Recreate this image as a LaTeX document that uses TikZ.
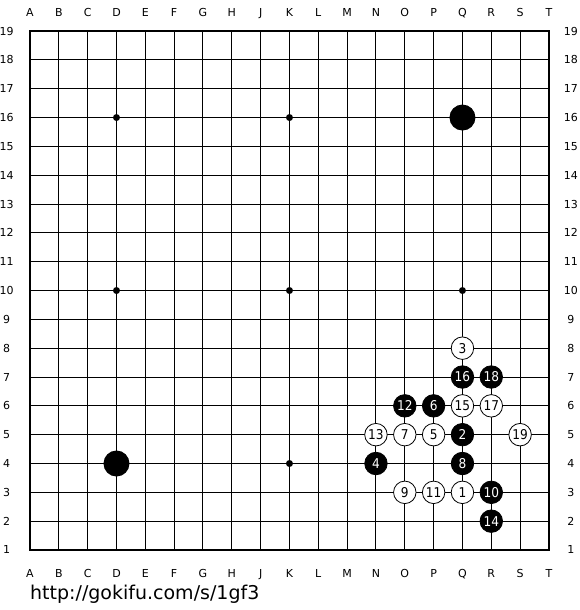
\documentclass[tikz,border=0pt]{standalone}
\usepackage{fontspec}
\setmainfont{DejaVu Sans}
\newfontfamily\numfont{DejaVu Sans Condensed}
\begin{document}
\begin{tikzpicture}[
  gridline/.style={line width=1pt,black},
  borderline/.style={line width=2pt,black},
  coordlabel/.style={font=\fontsize{11}{11}\selectfont,inner sep=0pt,text height=8pt,text depth=0pt},
  bstone/.style={circle,fill=black,draw=black,line width=0.8pt,minimum size=22.5pt,inner sep=0pt,text=white,font=\numfont\fontsize{13.5}{13.5}\selectfont},
  wstone/.style={circle,fill=white,draw=black,line width=0.8pt,minimum size=22.5pt,inner sep=0pt,text=black,font=\numfont\fontsize{13.5}{13.5}\selectfont},
  bigstone/.style={circle,fill=black,minimum size=26pt,inner sep=0pt},
  hoshi/.style={circle,fill=black,minimum size=7pt,inner sep=0pt}
]
\useasboundingbox[fill=white] (0pt,0pt) rectangle (580pt,610pt);
\begin{scope}[x=28.83pt,y=28.83pt,shift={(30pt,31.17pt)}]
  \foreach \i in {1,...,17} {
    \draw[gridline] (\i,1) -- (\i,19);
    \draw[gridline] (0,\i+1) -- (18,\i+1);
  }
  \draw[borderline] (0,1) rectangle (18,19);
  \foreach \l [count=\c from 0] in {A,B,C,D,E,F,G,H,J,K,L,M,N,O,P,Q,R,S,T} {
    \node[coordlabel] (top\l) at (\c,19.64) {\l};
    \node[coordlabel] (bot\l) at (\c,0.2) {\l};
  }
  \foreach \r in {1,...,19} {
    \node[coordlabel] (left\r) at (-0.81,\r) {\r};
    \node[coordlabel] (right\r) at (18.76,\r) {\r};
  }
  \foreach \c/\r [count=\k] in {3/16,9/16,3/10,9/10,15/10,9/4} {
    \node[hoshi] (hoshi\k) at (\c,\r) {};
  }
  \node[bigstone] (bigD4) at (3,4) {};
  \node[bigstone] (bigQ16) at (15,16) {};
  \node[wstone] (m1) at (15,3) {1};
  \node[bstone] (m2) at (15,5) {2};
  \node[wstone] (m3) at (15,8) {3};
  \node[bstone] (m4) at (12,4) {4};
  \node[wstone] (m5) at (14,5) {5};
  \node[bstone] (m6) at (14,6) {6};
  \node[wstone] (m7) at (13,5) {7};
  \node[bstone] (m8) at (15,4) {8};
  \node[wstone] (m9) at (13,3) {9};
  \node[bstone] (m10) at (16,3) {10};
  \node[wstone] (m11) at (14,3) {11};
  \node[bstone] (m12) at (13,6) {12};
  \node[wstone] (m13) at (12,5) {13};
  \node[bstone] (m14) at (16,2) {14};
  \node[wstone] (m15) at (15,6) {15};
  \node[bstone] (m16) at (15,7) {16};
  \node[wstone] (m17) at (16,6) {17};
  \node[bstone] (m18) at (16,7) {18};
  \node[wstone] (m19) at (17,5) {19};
\end{scope}
\node[anchor=base west,inner sep=0pt,font=\fontsize{19}{19}\selectfont] (url) at (30pt,10pt) {http://gokifu.com/s/1gf3};
\end{tikzpicture}
\end{document}
